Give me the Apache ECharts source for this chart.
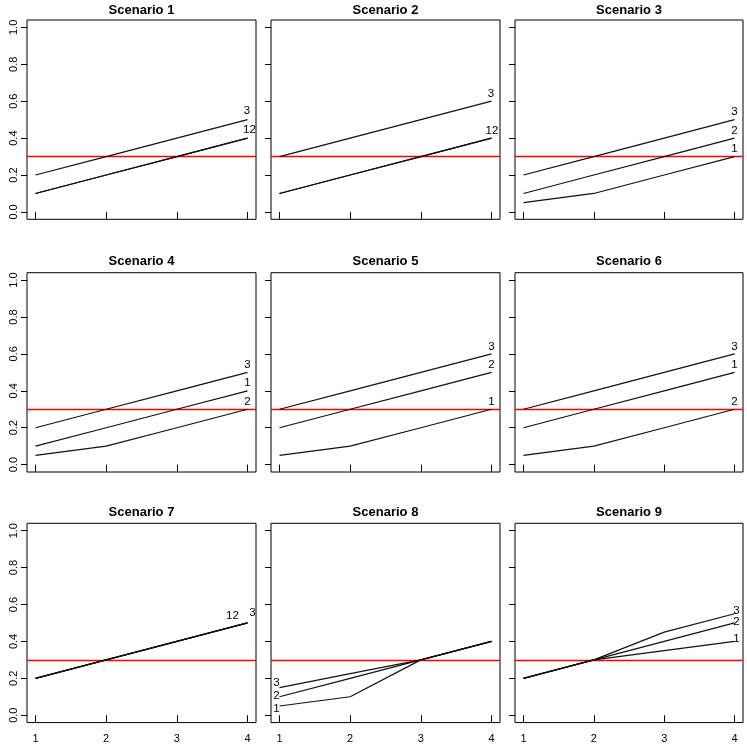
<!DOCTYPE html>
<html><head><meta charset="utf-8">
<script src="https://cdn.jsdelivr.net/npm/echarts@6/dist/echarts.min.js"></script>
<style>html,body{margin:0;padding:0;background:#fff}#c{width:747px;height:750px}</style>
</head><body><div id="c"></div>
<script>
// ---------- DATA ----------
const xValues = [1, 2, 3, 4];
const xTickLabels = ['1', '2', '3', '4'];
const yTicks = [0, 0.2, 0.4, 0.6, 0.8, 1.0];
const yTickLabels = ['0.0', '0.2', '0.4', '0.6', '0.8', '1.0'];
const threshold = 0.3;
const titles = ['Scenario 1','Scenario 2','Scenario 3','Scenario 4','Scenario 5','Scenario 6','Scenario 7','Scenario 8','Scenario 9'];

// each scenario: three lines (1, 2, 3) over xValues
const scenario1 = [[0.10,0.20,0.30,0.40],[0.10,0.20,0.30,0.40],[0.20,0.30,0.40,0.50]];
const scenario2 = [[0.10,0.20,0.30,0.40],[0.10,0.20,0.30,0.40],[0.30,0.40,0.50,0.60]];
const scenario3 = [[0.05,0.10,0.20,0.30],[0.10,0.20,0.30,0.40],[0.20,0.30,0.40,0.50]];
const scenario4 = [[0.10,0.20,0.30,0.40],[0.05,0.10,0.20,0.30],[0.20,0.30,0.40,0.50]];
const scenario5 = [[0.05,0.10,0.20,0.30],[0.20,0.30,0.40,0.50],[0.30,0.40,0.50,0.60]];
const scenario6 = [[0.20,0.30,0.40,0.50],[0.05,0.10,0.20,0.30],[0.30,0.40,0.50,0.60]];
const scenario7 = [[0.20,0.30,0.40,0.50],[0.20,0.30,0.40,0.50],[0.20,0.30,0.40,0.50]];
const scenario8 = [[0.05,0.10,0.30,0.40],[0.10,0.20,0.30,0.40],[0.15,0.225,0.30,0.40]];
const scenario9 = [[0.20,0.30,0.35,0.40],[0.20,0.30,0.40,0.50],[0.20,0.30,0.45,0.55]];

// line label texts (per line of each scenario)
const labels1 = ['', '12', '3'];
const labels2 = ['', '12', '3'];
const labels3 = ['1', '2', '3'];
const labels4 = ['1', '2', '3'];
const labels5 = ['1', '2', '3'];
const labels6 = ['1', '2', '3'];
const labels7 = ['', '12', '3'];
const labels8 = ['1', '2', '3'];
const labels9 = ['1', '2', '3'];

const scenarios = [scenario1,scenario2,scenario3,scenario4,scenario5,scenario6,scenario7,scenario8,scenario9];
const labelSets = [labels1,labels2,labels3,labels4,labels5,labels6,labels7,labels8,labels9];

// ---------- LAYOUT / STYLE ----------
const colLeft = [27, 271, 515];
const colWidth = [229, 229, 228];
const rowTop = [20, 272.7, 523.3];
const rowHeight = 199.3;
const titleTop = [4, 255, 506];
const FONT = "'Liberation Sans', Arial, Helvetica, sans-serif";

// label placement: which point index, and pixel offsets from it
const def = {at: 3, off: [0, -7.5]};
const labelPlace = [
  [def, {at:3, off:[2,-8]}, {at:3, off:[-0.5,-8.5]}],
  [def, {at:3, off:[0.5,-7]}, {at:3, off:[-0.5,-7.5]}],
  [def, def, def],
  [def, def, def],
  [def, def, def],
  [def, def, def],
  [def, {at:3, off:[-15,-7]}, {at:3, off:[5,-10]}],
  [{at:0, off:[-3,3]}, {at:0, off:[-3,-1]}, {at:0, off:[-3,-4.5]}],
  [{at:3, off:[2,-3]}, {at:3, off:[2,-1]}, {at:3, off:[2,-3.3]}]
];

const grids = [], xAxes = [], yAxes = [], series = [], titleOpts = [];
for (let i = 0; i < 9; i++) {
  const r = Math.floor(i / 3), c = i % 3;
  grids.push({left: colLeft[c], top: rowTop[r], width: colWidth[c], height: rowHeight,
    show: true, borderColor: '#000', borderWidth: 1, backgroundColor: 'transparent',
    containLabel: false, outerBoundsMode: 'none'});
  xAxes.push({type: 'value', gridIndex: i, min: 0.88, max: 4.12,
    axisLine: {show: false}, splitLine: {show: false},
    axisTick: {show: true, length: 7, inside: false, customValues: xValues, lineStyle: {color: '#000', width: 1}},
    axisLabel: {show: r === 2, customValues: xValues, margin: 11,
      formatter: v => xTickLabels[xValues.indexOf(v)] ?? '',
      fontFamily: FONT, fontSize: 11, color: '#000'}});
  yAxes.push({type: 'value', gridIndex: i, min: -0.04, max: 1.04,
    axisLine: {show: false}, splitLine: {show: false},
    axisTick: {show: true, length: 6, inside: false, customValues: yTicks, lineStyle: {color: '#000', width: 1}},
    axisLabel: {show: c === 0, customValues: yTicks, rotate: 90, margin: 8,
      formatter: v => { const k = yTicks.findIndex(t => Math.abs(t - v) < 1e-9); return k >= 0 ? yTickLabels[k] : ''; },
      fontFamily: FONT, fontSize: 11, color: '#000'}});
  titleOpts.push({text: titles[i], left: colLeft[c] + colWidth[c] / 2, top: titleTop[r], textAlign: 'center', padding: 0,
    textStyle: {fontFamily: FONT, fontSize: 13, fontWeight: 'bold', color: '#000'}});
  const sc = scenarios[i];
  sc.forEach((vals, li) => {
    const txt = labelSets[i][li];
    const pl = labelPlace[i][li];
    const data = vals.map((v, k) => {
      const item = {value: [xValues[k], v]};
      if (txt && k === pl.at) {
        item.label = {show: true, formatter: txt, position: 'inside', offset: pl.off,
          fontFamily: FONT, fontSize: 11.5, color: '#000'};
      }
      return item;
    });
    const s = {type: 'line', xAxisIndex: i, yAxisIndex: i, data: data,
      symbol: 'circle', symbolSize: 0.01, showSymbol: true, silent: true,
      itemStyle: {color: 'rgba(0,0,0,0)'},
      lineStyle: {color: '#111', width: 1.2}, z: 3,
      emphasis: {disabled: true}, label: {show: false}};
    if (li === 0) {
      s.markLine = {silent: true, symbol: ['none', 'none'], label: {show: false},
        lineStyle: {color: '#ff0000', type: 'solid', width: 1.3}, z: 2,
        itemStyle: {color: '#ff0000'},
        data: [{yAxis: threshold, lineStyle: {color: '#ff0000', width: 1.3, type: 'solid'}}]};
    }
    series.push(s);
  });
}

const chart = echarts.init(document.getElementById('c'), null, {renderer: 'canvas'});
chart.setOption({
  animation: false,
  backgroundColor: '#fff',
  title: titleOpts,
  grid: grids, xAxis: xAxes, yAxis: yAxes, series: series
});
</script></body></html>
